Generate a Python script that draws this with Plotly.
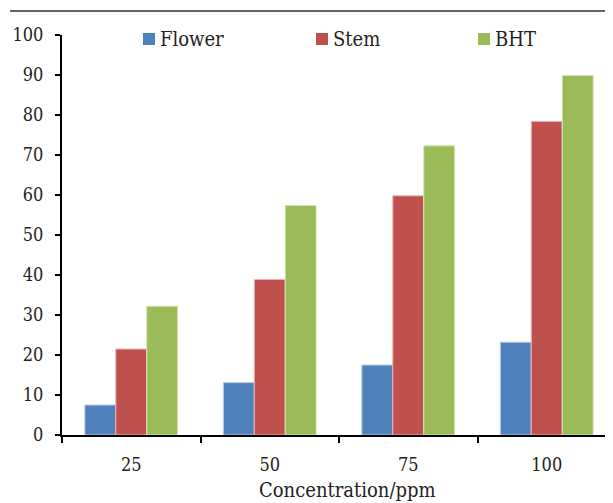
import plotly.graph_objects as go

categories = ["25", "50", "75", "100"]
flower = [7.5, 13.1, 17.5, 23.2]
stem = [21.5, 38.9, 59.8, 78.4]
bht = [32.2, 57.4, 72.3, 89.9]

FONT = "DejaVu Serif Condensed, DejaVu Serif"
O = 8  # page body margin offset
W, H = 613 - O, 503 - O
L, R, T, B = 62 - O, 0, 35 - O, 68
pw = W - L - R
ph = H - T - B
CAT_W = 138.5


def px(xr):
    return (xr - O - L) / pw


def py(yr):
    return (H - B - (yr - O)) / ph


fig = go.Figure()
series = [("Flower", flower, "#4F81BD", "#B9CDE5", 143),
          ("Stem", stem, "#C0504D", "#E6B9B8", 316),
          ("BHT", bht, "#9BBB59", "#D7E4BD", 478)]
for name, vals, col, edge, lx in series:
    fig.add_trace(go.Bar(x=categories, y=vals, name=name, showlegend=False,
                         marker=dict(color=col, line=dict(color=edge, width=1))))
    fig.add_shape(type="rect", xref="paper", yref="paper",
                  x0=px(lx), x1=px(lx + 12), y0=py(45), y1=py(33),
                  fillcolor=col, line=dict(width=0))
    fig.add_annotation(text=name, xref="paper", yref="paper", x=px(lx + 15), y=py(39),
                       xanchor="left", yanchor="middle", showarrow=False,
                       font=dict(family=FONT, size=20, color="#222"))

fig.update_layout(
    width=W, height=H,
    margin=dict(l=L, r=R, t=T, b=B, autoexpand=False),
    paper_bgcolor="white", plot_bgcolor="white",
    barmode="group", bargap=0.33, bargroupgap=0,
    font=dict(family=FONT, size=18, color="#222"),
    showlegend=False,
    xaxis=dict(type="category", range=[-0.5, -0.5 + pw / CAT_W],
               showline=True, linecolor="black", linewidth=2,
               ticks="outside", tickson="boundaries", ticklen=6, tickwidth=1.5, tickcolor="black",
               showgrid=False, zeroline=False, ticklabelstandoff=12,
               tickfont=dict(family=FONT, size=18, color="#222")),
    yaxis=dict(range=[0, 100], dtick=10, showline=True, linecolor="black", linewidth=2,
               ticks="outside", ticklen=5, tickwidth=1.5, tickcolor="black",
               showgrid=False, zeroline=False, ticklabelstandoff=8,
               tickfont=dict(family=FONT, size=18, color="#222")),
)

fig.add_shape(type="line", xref="paper", yref="paper",
              x0=px(10), x1=1.0, y0=py(11), y1=py(11),
              line=dict(color="#333", width=1.5))

fig.add_annotation(text="Concentration/ppm", xref="paper", yref="paper",
                   x=px(347), y=py(490), xanchor="center", yanchor="middle",
                   showarrow=False, font=dict(family=FONT, size=20, color="#222"))

fig.write_html("out.html")
